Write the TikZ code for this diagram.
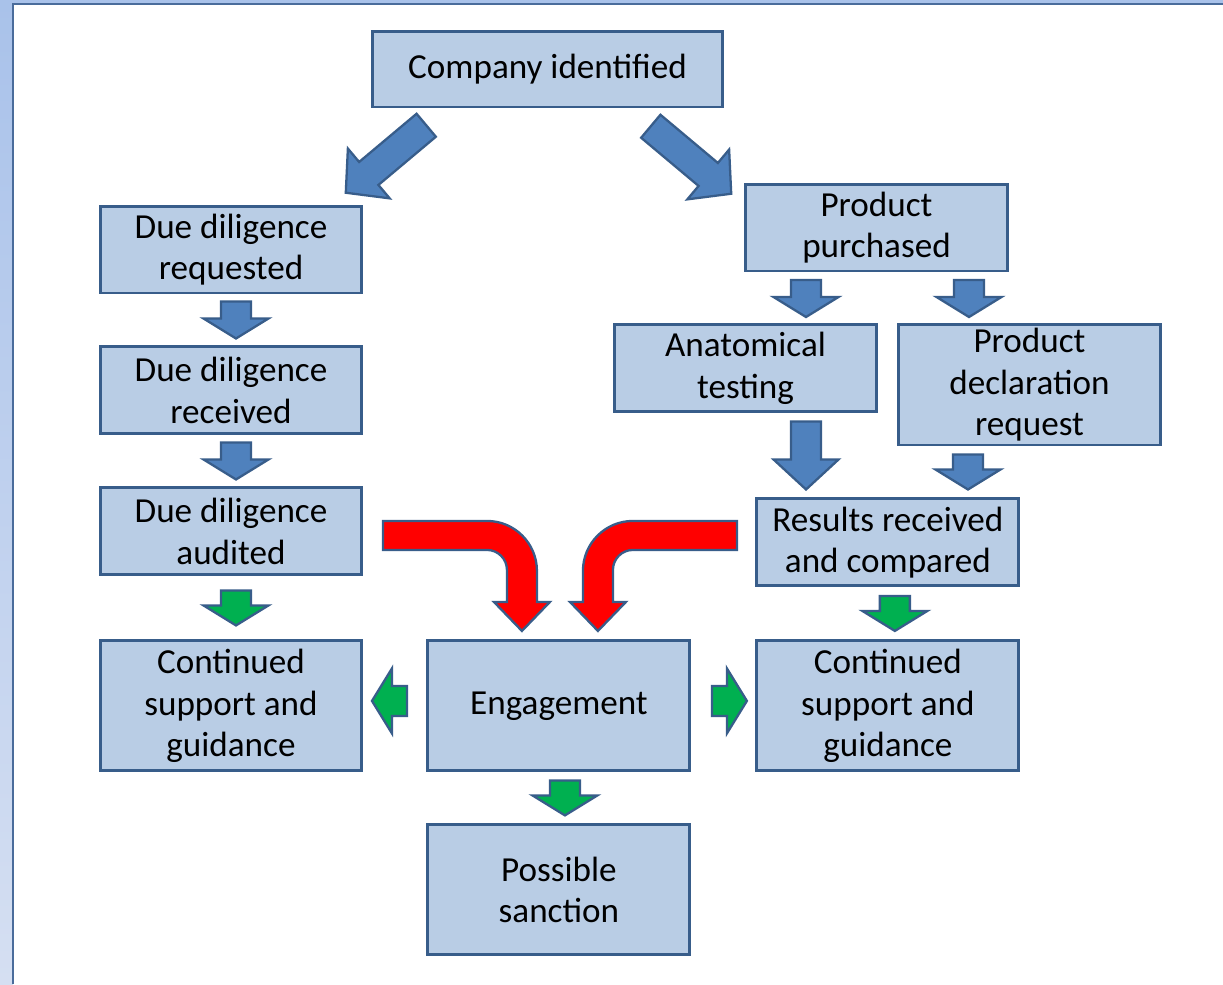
\documentclass[tikz,border=0pt]{standalone}
\usepackage{fontspec}
\setmainfont{Carlito}
\usetikzlibrary{positioning,calc}
\definecolor{boxfill}{HTML}{B9CDE5}
\definecolor{boxline}{HTML}{385D8A}
\definecolor{arrblue}{HTML}{4F81BD}
\definecolor{arrgreen}{HTML}{00B050}
\definecolor{framefill}{HTML}{A9C2EA}
\definecolor{framelow}{HTML}{D5DFF2}
\definecolor{frameline}{HTML}{4A6C9B}
\newcommand{\boxfont}{\fontsize{20}{23.6}\selectfont}
\tikzstyle{box} = [rectangle, minimum width=5.24cm, minimum height=1.74cm, text centered, align=center, draw=boxline, fill=boxfill, line width=1.7pt, outer sep=0pt, inner sep=2pt, font=\boxfont]
\tikzstyle{tallbox} = [box, minimum height=2.6cm]
\tikzstyle{bluearr} = [draw=boxline, fill=arrblue, line width=1.3pt, line join=miter]
\tikzstyle{greenarr} = [bluearr, fill=arrgreen]
\tikzstyle{redarr} = [bluearr, fill=red]
% block arrow: style, centre, angle (0 = down), shaft length, head length
\newcommand{\blkarrow}[5]{%
  \begin{scope}[shift={#2},rotate=#3]
    \draw[#1] (-15,{(#4+#5)/2}) -- (-15,{(#5-#4)/2}) -- (-32.5,{(#5-#4)/2}) -- (0,{-(#4+#5)/2})
      -- (32.5,{(#5-#4)/2}) -- (15,{(#5-#4)/2}) -- (15,{(#4+#5)/2}) -- cycle;
  \end{scope}}
% bent red arrow: tip, mirror
\newcommand{\bendarrow}[2]{%
  \begin{scope}[shift={#1},xscale=#2]
    \draw[redarr] (-139,110) -- (-35,110) arc[start angle=90,end angle=0,radius=50] -- (15,29) -- (28,29)
      -- (0,0) -- (-28,29) -- (-15,29) -- (-15,61) arc[start angle=0,end angle=90,radius=20] -- (-139,81) -- cycle;
  \end{scope}}

\begin{document}
\begin{tikzpicture}[x=0.02cm,y=0.02cm]
\useasboundingbox (0,0) rectangle (1223,-984);
% window frame
\fill[framefill] (0,0) rectangle (1223,-4);
\shade[top color=framefill, bottom color=framelow] (0,0) rectangle (13,-984);
\fill[white] (13,-4) rectangle (1223,-984);
\draw[frameline, line width=0.04cm] (13,-984) -- (13,-4) -- (1223,-4);

\node (comp) [box, minimum width=7.02cm, minimum height=1.52cm] at (547.5,-69) {Company identified};
\node (req) [box] at (231,-249.5) {Due diligence\\requested};
\node (rec) [box, below=1.08cm of req] {Due diligence\\received};
\node (aud) [box, below=1.08cm of rec] {Due diligence\\audited};
\node (suppL) [tallbox, below=1.32cm of aud] {Continued\\support and\\guidance};
\node (eng) [tallbox, right=1.32cm of suppL] {Engagement};
\node (sanc) [tallbox, below=1.08cm of eng] {Possible\\sanction};
\node (suppR) [tallbox, right=1.34cm of eng] {Continued\\support and\\guidance};
\node (res) [box, above=1.1cm of suppR] {Results received\\and compared};
\node (prod) [box] at (876.5,-227.5) {Product\\purchased};
\node (anat) [box, below=1.08cm of prod, xshift=-2.62cm] {Anatomical\\testing};
\node (decl) [box, minimum height=2.4cm, anchor=north west] at ($(anat.north east)+(22,0)$) {Product\\declaration\\request};

% arrows
\blkarrow{bluearr}{($(comp.south)+(-161.5,-52)$)}{-50}{75}{30}
\blkarrow{bluearr}{($(comp.south)+(143.5,-53)$)}{50}{75}{30}
\blkarrow{bluearr}{($(req.south)!0.5!(rec.north)+(5,0)$)}{0}{17}{20}
\blkarrow{bluearr}{($(rec.south)!0.5!(aud.north)+(5,0)$)}{0}{17}{20}
\blkarrow{greenarr}{($(aud.south)!0.5!(suppL.north)+(5,0)$)}{0}{15}{20}
\blkarrow{bluearr}{($(prod.south)+(-70.5,-27.5)$)}{0}{17}{20}
\blkarrow{bluearr}{($(prod.south)+(92.5,-27.5)$)}{0}{17}{20}
\blkarrow{bluearr}{($(anat.south)+(60.5,-43.5)$)}{0}{38}{30}
\blkarrow{bluearr}{($(decl.south)+(-61.5,-27)$)}{0}{15}{20}
\blkarrow{greenarr}{($(res.south)!0.5!(suppR.north)+(7,0)$)}{0}{15}{20}
\blkarrow{greenarr}{($(eng.south)!0.5!(sanc.north)+(6,0)$)}{0}{15}{20}
\blkarrow{greenarr}{($(suppL.east)!0.5!(eng.west)+(-5.5,5)$)}{-90}{15}{20}
\blkarrow{greenarr}{($(eng.east)!0.5!(suppR.west)+(6,5)$)}{90}{15}{20}
\bendarrow{($(eng.north)+(-37,10)$)}{1}
\bendarrow{($(eng.north)+(39,10)$)}{-1}
\end{tikzpicture}
\end{document}
